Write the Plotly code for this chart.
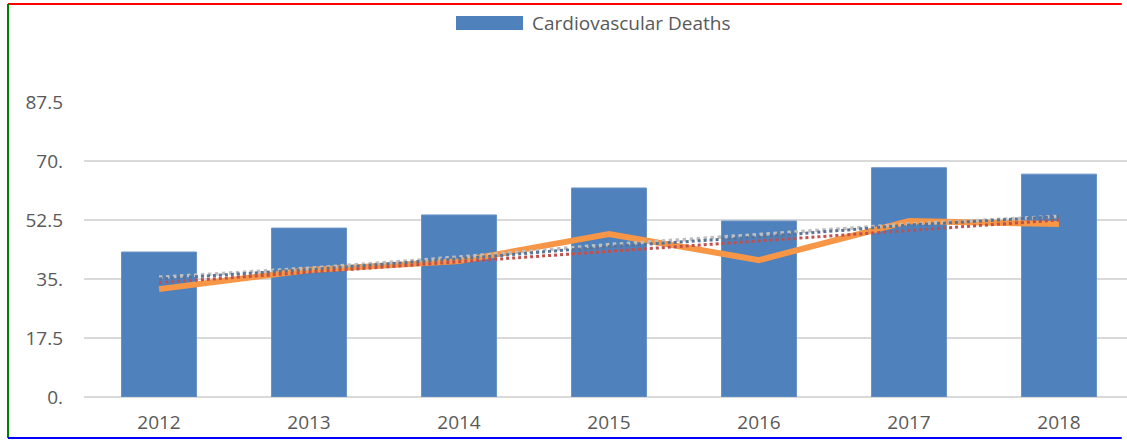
import plotly.graph_objects as go

years = ["2012", "2013", "2014", "2015", "2016", "2017", "2018"]
deaths = [43.0, 50.1, 54.0, 62.0, 52.2, 68.0, 66.1]
line_vals = [32.0, 37.7, 40.3, 48.3, 40.6, 52.2, 51.3]
trend_red = [33.9, 37.0, 40.1, 43.2, 46.3, 49.4, 52.5]
trend_blue = [35.0, 37.8, 41.0, 44.6, 47.5, 51.0, 53.5]
trend_grey = [35.5, 38.2, 41.5, 45.2, 48.2, 51.3, 53.6]
ytick_vals = [0, 17.5, 35, 52.5, 70, 87.5]
ytick_text = ["0.", "17.5", "35.", "52.5", "70.", "87.5"]
legend_label = "Cardiovascular Deaths"

FONT = "Open Sans"
TXT = "#595959"
GRID = "#D9D9D9"

fig = go.Figure()
fig.add_trace(go.Bar(x=years, y=deaths, name=legend_label,
                     marker=dict(color="#4F81BD", line=dict(color="#6A93C6", width=1)),
                     showlegend=False))
fig.add_trace(go.Scatter(x=years, y=line_vals, mode="lines",
                         line=dict(color="#F79646", width=6), showlegend=False))
fig.add_trace(go.Scatter(x=years, y=trend_grey, mode="lines",
                         line=dict(color="#BFBFBF", width=3.5, dash="dot"), showlegend=False))
fig.add_trace(go.Scatter(x=years, y=trend_blue, mode="lines",
                         line=dict(color="#5B7394", width=3, dash="dot"), showlegend=False))
fig.add_trace(go.Scatter(x=years, y=trend_red, mode="lines",
                         line=dict(color="#C0504D", width=3, dash="dot"), showlegend=False))

L, R, T, B = 84, 0, 102, 44
W, H = 1127, 441
pw, ph = W - L - R, H - T - B

def px_x(px):
    return (px - L) / pw

def px_y(py):
    return (H - B - py) / ph

fig.update_layout(
    width=W, height=H,
    margin=dict(l=L, r=R, t=T, b=B, autoexpand=False),
    plot_bgcolor="white", paper_bgcolor="white",
    bargap=0.5,
    font=dict(family=FONT, size=19, color=TXT),
    xaxis=dict(type="category", range=[-0.5, -0.5 + pw / 150.0],
               showgrid=False, showline=False, zeroline=False,
               automargin=False, ticks="", ticklabelstandoff=12,
               tickfont=dict(family=FONT, size=19, color=TXT)),
    yaxis=dict(range=[0, 87.5], tickvals=ytick_vals, ticktext=ytick_text,
               showgrid=True, gridcolor=GRID, gridwidth=2,
               zeroline=True, zerolinecolor=GRID, zerolinewidth=2,
               showline=False, automargin=False,
               ticks="", ticklabelstandoff=20,
               tickfont=dict(family=FONT, size=19, color=TXT)),
    shapes=[
        dict(type="line", xref="paper", yref="paper",
             x0=px_x(8), x1=0.995, y0=px_y(4), y1=px_y(4),
             line=dict(color="red", width=2)),
        dict(type="line", xref="paper", yref="paper",
             x0=px_x(8), x1=px_x(8), y0=px_y(4), y1=px_y(438),
             line=dict(color="green", width=2)),
        dict(type="line", xref="paper", yref="paper",
             x0=px_x(8), x1=0.995, y0=px_y(438), y1=px_y(438),
             line=dict(color="blue", width=2)),
        dict(type="rect", xref="paper", yref="paper",
             x0=px_x(456), x1=px_x(523), y0=px_y(30), y1=px_y(16),
             fillcolor="#4F81BD", line=dict(width=0)),
    ],
    annotations=[
        dict(text=legend_label, xref="paper", yref="paper",
             x=px_x(530), y=px_y(23), xanchor="left", yanchor="middle",
             showarrow=False, font=dict(family=FONT, size=19, color=TXT)),
    ],
)

fig.write_html("out.html", config={"displayModeBar": False},
               post_script="document.body.style.margin='0';document.body.style.overflow='hidden';document.documentElement.style.overflow='hidden';")
